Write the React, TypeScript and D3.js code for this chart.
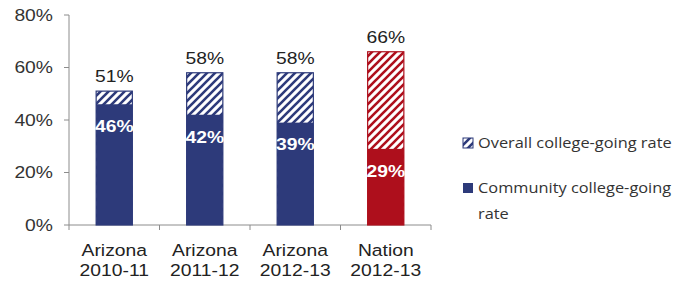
import React from "react";
import * as d3 from "d3";

const categories = ["Arizona 2010-11", "Arizona 2011-12", "Arizona 2012-13", "Nation 2012-13"];
const overallRate = [51, 58, 58, 66];
const communityRate = [46, 42, 39, 29];
const barColors = ["#2d3a7a", "#2d3a7a", "#2d3a7a", "#ae0f1c"];
const yTicks = [0, 20, 40, 60, 80];
const legendItems = ["Overall college-going rate", "Community college-going", "rate"];

const W = 688;
const H = 281;
const left = 69;
const right = 431;
const top = 15;
const bottom = 225;
const stretch = 1.17;
const font = "'Liberation Sans', Arial, sans-serif";

// the source picture is a bit wider than tall, so text is stretched sideways
function T(props: { x: number; y: number; anchor?: string; size?: number; bold?: boolean; fill?: string; family?: string; children: React.ReactNode }) {
  const { x, y, anchor = "start", size = 16.5, bold, fill = "#222", family = font, children } = props;
  return (
    <text
      transform={`translate(${x},${y}) scale(${stretch},1)`}
      dy="0.35em"
      textAnchor={anchor}
      fontFamily={family}
      fontSize={size}
      fontWeight={bold ? "bold" : "normal"}
      fill={fill}
    >
      {children}
    </text>
  );
}

export default function App() {
  const x = d3.scaleBand<string>().domain(categories).range([left, right]).paddingInner(0.6).paddingOuter(0.3);
  const y = d3.scaleLinear().domain([0, 80]).range([bottom, top]);
  const step = x.step();

  return (
    <svg width={W} height={H} style={{ position: "absolute", left: 0, top: 0, background: "#fff" }}>
      <defs>
        {["#2d3a7a", "#ae0f1c"].map((c, i) => (
          <pattern key={c} id={"hatch" + i} patternUnits="userSpaceOnUse" width={8} height={8}>
            <rect width={8} height={8} fill="#fff" />
            <path d="M-2,2 l4,-4 M0,8 l8,-8 M6,10 l4,-4" stroke={c} strokeWidth={2.6} />
          </pattern>
        ))}
      </defs>

      {/* axes */}
      <line x1={left} x2={left} y1={top} y2={bottom} stroke="#8c8c8c" />
      <line x1={left} x2={right} y1={bottom} y2={bottom} stroke="#8c8c8c" />
      {yTicks.map((t) => (
        <g key={t}>
          <line x1={left - 5} x2={left} y1={y(t)} y2={y(t)} stroke="#8c8c8c" />
          <T x={left - 16} y={y(t)} anchor="end" fill="#333">{t}%</T>
        </g>
      ))}
      {d3.range(categories.length + 1).map((i) => (
        <line key={i} x1={left + i * step} x2={left + i * step} y1={bottom} y2={bottom + 5} stroke="#8c8c8c" />
      ))}
      {categories.map((c) => {
        const [a, b] = c.split(" ");
        const cx = (x(c) ?? 0) + x.bandwidth() / 2;
        return (
          <g key={c}>
            <T x={cx} y={250} anchor="middle">{a}</T>
            <T x={cx} y={270} anchor="middle">{b}</T>
          </g>
        );
      })}

      {/* bars */}
      {categories.map((c, i) => {
        const bx = x(c) ?? 0;
        const bw = x.bandwidth();
        const col = barColors[i];
        const pid = col === "#ae0f1c" ? "hatch1" : "hatch0";
        return (
          <g key={c}>
            <rect x={bx} y={y(overallRate[i])} width={bw} height={bottom - y(overallRate[i])} fill={`url(#${pid})`} stroke={col} strokeWidth={1.2} />
            <rect x={bx} y={y(communityRate[i])} width={bw} height={bottom - y(communityRate[i])} fill={col} />
            <T x={bx + bw / 2} y={y(overallRate[i]) - 15} anchor="middle">{overallRate[i]}%</T>
            <T x={bx + bw / 2} y={y(communityRate[i]) + 22} anchor="middle" bold fill="#fff">{communityRate[i]}%</T>
          </g>
        );
      })}

      {/* legend */}
      <rect x={463} y={138} width={10} height={10} fill="url(#hatch0)" stroke="#2d3a7a" strokeWidth={1} />
      <T x={478} y={143} size={14} family="'Open Sans', sans-serif" fill="#333">{legendItems[0]}</T>
      <rect x={463} y={183} width={10} height={10} fill="#2d3a7a" />
      <T x={478} y={188} size={14} family="'Open Sans', sans-serif" fill="#333">{legendItems[1]}</T>
      <T x={478} y={214} size={14} family="'Open Sans', sans-serif" fill="#333">{legendItems[2]}</T>
    </svg>
  );
}
